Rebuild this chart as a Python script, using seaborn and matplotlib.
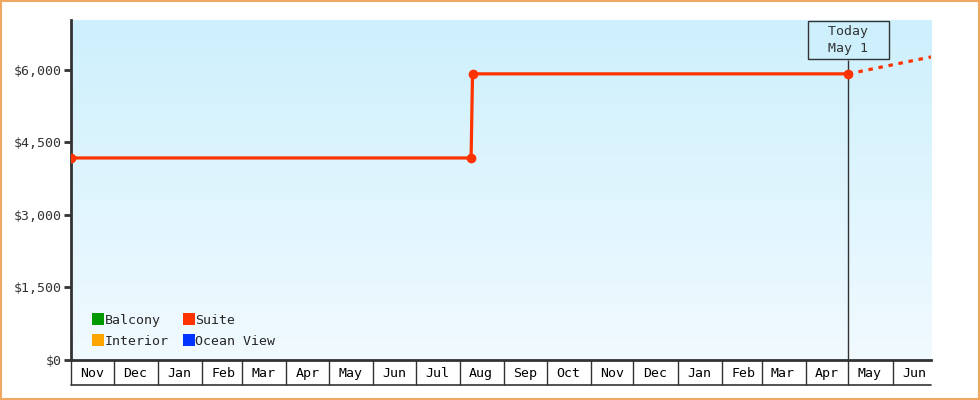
import numpy as np
import pandas as pd
import matplotlib
matplotlib.use("Agg")
import matplotlib.pyplot as plt
import matplotlib.dates as mdates
from matplotlib.lines import Line2D
from matplotlib.patches import Rectangle
from matplotlib.colors import LinearSegmentedColormap
import seaborn as sns

# price history for the Suite cabin
suite_dates = pd.to_datetime(["2021-11-01", "2022-08-09", "2022-08-10", "2023-05-01"])
suite_prices = [4180, 4180, 5920, 5920]

# projected price after today
proj_dates = pd.to_datetime(["2023-05-01", "2023-06-28"])
proj_prices = [5920, 6270]

today = pd.Timestamp("2023-05-01")
today_label = "  Today  \n  May 1  "

legend_names = ["Balcony", "Interior", "Suite", "Ocean View"]
legend_colors = ["#009900", "#ffa500", "#ff3300", "#0033ff"]

y_ticks = [0, 1500, 3000, 4500, 6000]
x_start = pd.Timestamp("2021-11-01")
x_end = pd.Timestamp("2023-06-28")

sns.set_style("white")
plt.rcParams["font.family"] = ["DejaVu Sans Mono"]
dark = "#333333"

fig = plt.figure(figsize=(9.8, 4), dpi=100)
ax = fig.add_axes([71 / 980, 40 / 400, 860 / 980, 340 / 400])

# gradient background
grad = np.linspace(0, 1, 256).reshape(-1, 1)
cmap = LinearSegmentedColormap.from_list("bg", ["#cdf0fc", "#f1faff"])
ax.imshow(grad, cmap=cmap, aspect="auto", extent=[0, 1, 0, 1],
          transform=ax.transAxes, zorder=0)

red = "#ff3300"
sns.lineplot(x=suite_dates, y=suite_prices, ax=ax, color=red, lw=2.3,
             marker="o", markersize=7, markeredgewidth=0, sort=False, zorder=4)
sns.lineplot(x=proj_dates, y=proj_prices, ax=ax, color=red, lw=2.3,
             linestyle=(0, (1.4, 1.8)), sort=False, zorder=3)

ax.set_xlim(x_start, x_end)
ax.set_ylim(0, 7034)

# today marker
ax.vlines(today, 0, 6207, color=dark, lw=1, zorder=2)
ax.text(today, 6620, today_label, ha="center", va="center", fontsize=9.5,
        color=dark, linespacing=1.45, zorder=5,
        bbox=dict(boxstyle="square,pad=0.32", fc="#cdf0fc", ec=dark, lw=1))

# axes styling
for s in ["top", "right"]:
    ax.spines[s].set_visible(False)
ax.spines["left"].set_color(dark)
ax.spines["left"].set_linewidth(2)
ax.spines["bottom"].set_color(dark)
ax.spines["bottom"].set_linewidth(2)

ax.set_yticks(y_ticks)
ax.set_yticklabels(["${:,}".format(v) for v in y_ticks])
ax.tick_params(axis="y", direction="out", length=5, width=2, color=dark,
               labelsize=9.5, labelcolor=dark, pad=2, left=True)

# month cells: boundaries as major ticks, names centred as minor ticks
ax.xaxis.set_major_locator(mdates.MonthLocator())
ax.xaxis.set_major_formatter(plt.NullFormatter())
ax.xaxis.set_minor_locator(mdates.MonthLocator(bymonthday=16))
ax.xaxis.set_minor_formatter(mdates.DateFormatter("%b"))
ax.tick_params(axis="x", which="major", direction="out", length=18, width=1,
               color=dark, bottom=True)
ax.tick_params(axis="x", which="minor", length=0, labelsize=9.5,
               labelcolor="black", pad=5)
ax.set_xlabel("")
ax.set_ylabel("")
ax.grid(False)

# bottom line of the month strip
fig.add_artist(Line2D([71 / 980, 931 / 980], [15 / 400, 15 / 400],
                      color=dark, lw=1.2))

handles = [Line2D([], [], marker="s", linestyle="none", markersize=8,
                  markerfacecolor=c, markeredgewidth=0) for c in legend_colors]
ax.legend(handles, legend_names, ncol=2, loc="lower left",
          bbox_to_anchor=(0.015, 0.012), frameon=False, fontsize=9.5,
          handletextpad=0.0, columnspacing=1.0, labelspacing=0.6,
          handlelength=1.0, borderaxespad=0.2)

# outer frame
fig.add_artist(Rectangle((0.001, 0.002), 0.998, 0.996, transform=fig.transFigure,
                         fill=False, ec="#f0a860", lw=1.5))

fig.savefig("out.png", dpi=100)
